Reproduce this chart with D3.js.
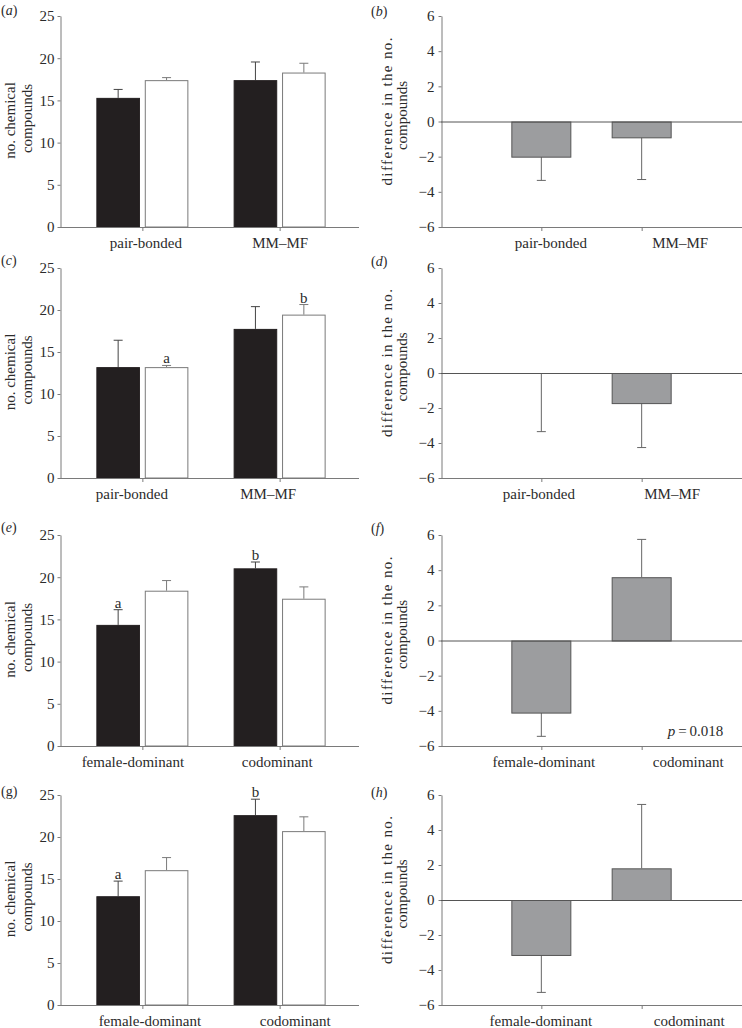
<!DOCTYPE html>
<html><head><meta charset="utf-8">
<script src="https://cdn.jsdelivr.net/npm/d3@7"></script>
<style>
body{margin:0;background:#fff}
svg{display:block}
svg text{font-family:"Liberation Serif","DejaVu Serif",serif !important;fill:#2b2b2b}
</style>
</head><body>
<svg id="chart" width="742" height="1028"></svg>
<script>
// ---------- data ----------
const pairCategories = ["pair-bonded", "MM\u2013MF"];
const dominanceCategories = ["female-dominant", "codominant"];
const countTicks = [0, 5, 10, 15, 20, 25];
const diffTicks = [-6, -4, -2, 0, 2, 4, 6];

// (a)
const aBlack = [15.3, 17.4];   const aBlackErr = [16.3, 19.55];
const aWhite = [17.4, 18.3];   const aWhiteErr = [17.7, 19.4];
// (c)
const cBlack = [13.2, 17.75];  const cBlackErr = [16.4, 20.4];
const cWhite = [13.2, 19.45];  const cWhiteErr = [13.4, 20.65];
const cWhiteLetters = ["a", "b"];
// (e)
const eBlack = [14.35, 21.05]; const eBlackErr = [16.15, 21.8];
const eWhite = [18.4, 17.45];  const eWhiteErr = [19.6, 18.85];
const eBlackLetters = ["a", "b"];
// (g)
const gBlack = [12.95, 22.6];  const gBlackErr = [14.75, 24.5];
const gWhite = [16.05, 20.7];  const gWhiteErr = [17.55, 22.4];
const gBlackLetters = ["a", "b"];

// (b) (d) (f) (h) differences
const bDiff = [-2.0, -0.9];    const bDiffErr = [-3.35, -3.3];
const dDiff = [0, -1.72];      const dDiffErr = [-3.35, -4.26];
const fDiff = [-4.1, 3.6];     const fDiffErr = [-5.45, 5.75];
const hDiff = [-3.14, 1.81];   const hDiffErr = [-5.28, 5.46];
const fPText = "0.018";

// ---------- layout ----------
const FONT = '"Liberation Serif","DejaVu Serif",serif';
const svg = d3.select("#chart");
const rows = [
  {top: 16, bottom: 227, label: 10},
  {top: 268, bottom: 478, label: 260},
  {top: 535, bottom: 746, label: 527},
  {top: 795, bottom: 1005, label: 791}
];
const leftFrame = {x0: 60, x1: 359};
const rightFrame = {x0: 441, x1: 742};
const axisColor = "#7a7a7a";

const countPanels = [
  {label: "a", italic: true, row: 0, cats: pairCategories, black: aBlack, blackErr: aBlackErr, white: aWhite, whiteErr: aWhiteErr, shift: [3, 0]},
  {label: "c", italic: true, row: 1, cats: pairCategories, black: cBlack, blackErr: cBlackErr, white: cWhite, whiteErr: cWhiteErr, whiteLetters: cWhiteLetters, shift: [-11, -12]},
  {label: "e", italic: true, row: 2, cats: dominanceCategories, black: eBlack, blackErr: eBlackErr, white: eWhite, whiteErr: eWhiteErr, blackLetters: eBlackLetters, shift: [-10, -3]},
  {label: "g", italic: false, row: 3, cats: dominanceCategories, black: gBlack, blackErr: gBlackErr, white: gWhite, whiteErr: gWhiteErr, blackLetters: gBlackLetters, shift: [7, 15]}
];
const diffPanels = [
  {label: "b", row: 0, cats: pairCategories, vals: bDiff, errs: bDiffErr, shift: [9, 38]},
  {label: "d", row: 1, cats: pairCategories, vals: dDiff, errs: dDiffErr, shift: [-3, 30]},
  {label: "f", row: 2, cats: dominanceCategories, vals: fDiff, errs: fDiffErr, p: fPText, shift: [2, 46]},
  {label: "h", row: 3, cats: dominanceCategories, vals: hDiff, errs: hDiffErr, shift: [-1, 47]}
];

function styleAxis(sel) {
  sel.attr("font-family", FONT);
  sel.select(".domain").attr("stroke", axisColor).attr("stroke-width", 1);
  sel.selectAll(".tick line").attr("stroke", axisColor);
  sel.selectAll(".tick text").style("font-family", FONT).style("font-size", "15px").attr("fill", "#2b2b2b");
}

function panelLabel(x, y, letter, italic) {
  const t = svg.append("text").attr("x", x).attr("y", y).attr("dominant-baseline", "central")
    .style("font-family", FONT).style("font-size", "14px");
  t.append("tspan").text("(");
  t.append("tspan").style("font-style", italic ? "italic" : "normal").text(letter);
  t.append("tspan").text(")");
}

function xAxis(g, x, cats, yPos, x0, x1, shift) {
  g.append("line").attr("x1", x0).attr("x2", x1).attr("y1", yPos + 0.5).attr("y2", yPos + 0.5)
    .attr("stroke", axisColor);
  const ax = g.append("g").attr("transform", `translate(0,${yPos})`)
    .call(d3.axisBottom(x).tickSize(4).tickSizeOuter(0).tickPadding(6));
  ax.attr("font-family", FONT);
  ax.select(".domain").remove();
  ax.selectAll(".tick line").attr("stroke", axisColor);
  ax.selectAll(".tick text").style("font-family", FONT).style("font-size", "15px").attr("fill", "#2b2b2b")
    .attr("dx", (d, i) => shift[i]);
}

function yLabel(g, cx, cy, lines) {
  lines.forEach(l => {
    const t = g.append("text").attr("transform", `translate(${cx + l.dx},${cy + l.dy}) rotate(-90)`)
      .attr("text-anchor", "middle").style("font-family", FONT).style("font-size", "15px").text(l.text);
    if (l.len) t.attr("textLength", l.len).attr("lengthAdjust", "spacing");
  });
}

// ---------- count panels ----------
countPanels.forEach(p => {
  const r = rows[p.row];
  const g = svg.append("g");
  const y = d3.scaleLinear().domain([0, 25]).range([r.bottom, r.top]);
  const x = d3.scalePoint().domain(p.cats).range([leftFrame.x0, leftFrame.x1 + 3]).padding(0.6);
  const sub = d3.scaleBand().domain(["black", "white"]).range([-46, 46]).paddingInner(0.1);

  const ya = g.append("g").attr("transform", `translate(${leftFrame.x0 + 0.5},0)`)
    .call(d3.axisLeft(y).tickValues(countTicks).tickSize(3).tickSizeOuter(0).tickPadding(3));
  styleAxis(ya);

  const series = [
    {key: "black", vals: p.black, errs: p.blackErr, fill: "#231f20", stroke: "#231f20", err: "#444", letters: p.blackLetters},
    {key: "white", vals: p.white, errs: p.whiteErr, fill: "#ffffff", stroke: "#7a7a7a", err: "#7a7a7a", letters: p.whiteLetters}
  ];
  series.forEach(s => {
    const data = p.cats.map((c, i) => ({c, v: s.vals[i], e: s.errs[i], l: s.letters ? s.letters[i] : null}));
    const cx = d => x(d.c) + sub(s.key) + sub.bandwidth() / 2;
    g.selectAll(null).data(data).join("line")
      .attr("x1", cx).attr("x2", cx).attr("y1", d => y(d.v)).attr("y2", d => y(d.e))
      .attr("stroke", s.err);
    g.selectAll(null).data(data).join("line")
      .attr("x1", d => cx(d) - 4.5).attr("x2", d => cx(d) + 4.5).attr("y1", d => y(d.e)).attr("y2", d => y(d.e))
      .attr("stroke", s.err);
    g.selectAll(null).data(data).join("rect")
      .attr("x", d => x(d.c) + sub(s.key) + 0.5).attr("width", sub.bandwidth() - 1)
      .attr("y", d => y(d.v) + 0.5).attr("height", d => y(0) - y(d.v) - 0.5)
      .attr("fill", s.fill).attr("stroke", s.stroke);
    g.selectAll(null).data(data.filter(d => d.l)).join("text")
      .attr("x", cx).attr("y", d => y(d.e) - 2).attr("text-anchor", "middle")
      .style("font-family", FONT).style("font-size", "15px").text(d => d.l);
  });

  xAxis(g, x, p.cats, r.bottom, leftFrame.x0, leftFrame.x1, p.shift);
  const cy = (r.top + r.bottom) / 2;
  yLabel(g, 0, cy, [
    {text: "no. chemical", dx: 14.5, dy: -1},
    {text: "compounds", dx: 32, dy: -3}
  ]);
  panelLabel(1, r.label, p.label, p.italic);
});

// ---------- difference panels ----------
diffPanels.forEach(p => {
  const r = rows[p.row];
  const g = svg.append("g");
  const y = d3.scaleLinear().domain([-6, 6]).range([r.bottom, r.top]);
  const x = d3.scalePoint().domain(p.cats).range([rightFrame.x0, rightFrame.x1]).padding(1);
  const bw = 60;

  const ya = g.append("g").attr("transform", `translate(${rightFrame.x0 + 0.5},0)`)
    .call(d3.axisLeft(y).tickValues(diffTicks).tickSize(3).tickSizeOuter(0).tickPadding(4));
  styleAxis(ya);

  const data = p.cats.map((c, i) => ({c, v: p.vals[i], e: p.errs[i]}));
  g.selectAll(null).data(data).join("line")
    .attr("x1", d => x(d.c)).attr("x2", d => x(d.c)).attr("y1", d => y(d.v)).attr("y2", d => y(d.e))
    .attr("stroke", "#666");
  g.selectAll(null).data(data).join("line")
    .attr("x1", d => x(d.c) - 4.5).attr("x2", d => x(d.c) + 4.5).attr("y1", d => y(d.e)).attr("y2", d => y(d.e))
    .attr("stroke", "#666");
  g.selectAll(null).data(data.filter(d => d.v !== 0)).join("rect")
    .attr("x", d => x(d.c) - bw / 2 + 0.5).attr("width", bw - 1)
    .attr("y", d => Math.min(y(d.v), y(0)) + 0.5).attr("height", d => Math.abs(y(d.v) - y(0)))
    .attr("fill", "#9c9d9f").attr("stroke", "#555");
  // zero line
  g.append("line").attr("x1", rightFrame.x0).attr("x2", rightFrame.x1)
    .attr("y1", y(0) + 0.5).attr("y2", y(0) + 0.5).attr("stroke", "#555");

  xAxis(g, x, p.cats, r.bottom, rightFrame.x0, rightFrame.x1, p.shift);

  if (p.p) {
    const t = g.append("text").attr("x", x(p.cats[1]) + 26).attr("y", y(-6) - 10)
      .style("font-family", FONT).style("font-size", "15px");
    t.append("tspan").style("font-style", "italic").text("p");
    t.append("tspan").text("\u2009=\u2009" + p.p);
  }

  const cy = (r.top + r.bottom) / 2;
  yLabel(g, 370, cy, [
    {text: "difference in the no.", dx: 22, dy: -10, len: 148},
    {text: "compounds", dx: 37, dy: -6}
  ]);
  panelLabel(371, r.label + 1, p.label, true);
});
</script>
</body></html>
